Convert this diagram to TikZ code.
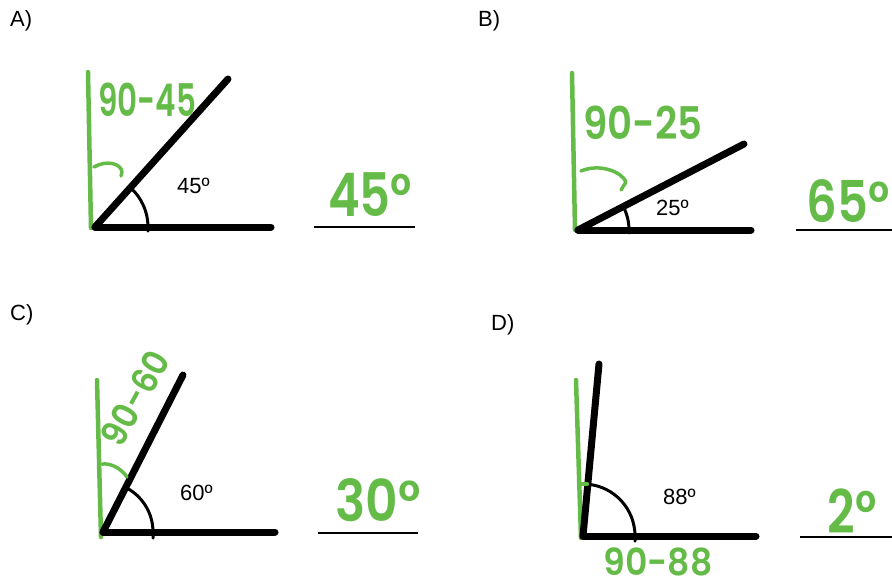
\documentclass[tikz,border=0pt]{standalone}
\usepackage{fontspec}
\setmainfont{Liberation Sans}
\newfontfamily\hand{Poppins}[BoldFont={Poppins SemiBold}]
\definecolor{pen}{RGB}{101,187,72}
\tikzset{
 ray/.style={line width=7pt, line cap=round, black},
 arcmark/.style={line width=3pt, line cap=round, black},
 gline/.style={line width=4.5pt, line cap=round, line join=round, pen},
 blank/.style={line width=1.5pt, black},
 lbl/.style={font=\fontsize{22}{26}\selectfont, inner sep=0pt, anchor=base west},
 gtxt/.style={text=pen, inner sep=0pt, font=\hand\bfseries\fontsize{31}{31}\selectfont},
 gbig/.style={text=pen, inner sep=0pt, font=\hand\bfseries\fontsize{48}{48}\selectfont},
}
\begin{document}
\begin{tikzpicture}[x=1pt,y=-1pt]
\fill[white] (0,0) rectangle (892,584);
\useasboundingbox (0,0) rectangle (892,584);

% ---------- Panel A ----------
\node[lbl] (labA) at (10,26) {A)};
\coordinate (VA) at (95,227);
\coordinate (HA) at (271,227);
\coordinate (DA) at (228,79);
\coordinate (GtA) at (88,72);
\coordinate (GbA) at (91,228);
\draw[gline] (GtA) -- (GbA);
\draw[ray] (VA) -- (HA);
\draw[ray] (VA) -- (DA);
\draw[arcmark] (148,231) -- (148,227) arc[start angle=0, end angle=-48, radius=53];
\draw[gline, line width=3.5pt] (94,167) .. controls (106,160) and (121,163) .. (122,172) -- (121,176);
\node[gtxt] (tA) at (147,100) {\scalebox{1}[1.45]{90-45}};
\node[lbl] (aA) at (177,193) {45º};
\node[gbig] (ansA) at (370,195) {\scalebox{1}[1.25]{45°}};
\coordinate (uA1) at (314,227);
\coordinate (uA2) at (415,227);
\draw[blank] (uA1) -- (uA2);

% ---------- Panel B ----------
\node[lbl] (labB) at (478,26) {B)};
\coordinate (VB) at (578,230);
\coordinate (HB) at (751,230);
\coordinate (DB) at (744,144);
\coordinate (GtB) at (572,73);
\coordinate (GbB) at (575,230);
\draw[gline] (GtB) -- (GbB);
\draw[ray] (VB) -- (HB);
\draw[ray] (VB) -- (DB);
\draw[arcmark] (629,233) -- (629,230) arc[start angle=0, end angle=-27.4, radius=51];
\draw[gline, line width=3.5pt] (581,171) .. controls (600,163) and (622,172) .. (626,182) -- (621,190);
\node[gtxt] (tB) at (643,123) {\scalebox{1.25}[1.45]{90-25}};
\node[lbl] (aB) at (656,215) {25º};
\node[gbig] (ansB) at (848,201) {\scalebox{1}[1.2]{65°}};
\coordinate (uB1) at (796,230);
\coordinate (uB2) at (892,230);
\draw[blank] (uB1) -- (uB2);

% ---------- Panel C ----------
\node[lbl] (labC) at (10,320) {C)};
\coordinate (VC) at (103,532);
\coordinate (HC) at (275,532);
\coordinate (DC) at (183,375);
\coordinate (GtC) at (97,380);
\coordinate (GbC) at (101,537);
\draw[gline] (GtC) -- (GbC);
\draw[ray] (VC) -- (HC);
\draw[ray] (VC) -- (DC);
\draw[arcmark] (153,538) -- (153,532) arc[start angle=0, end angle=-63, radius=50];
\draw[gline, line width=3.5pt] (102,464) .. controls (113,463) and (122,470) .. (127,477);
\node[gtxt, rotate=61] (tC) at (135,398) {\scalebox{1.05}[1.15]{90-60}};
\node[lbl] (aC) at (180,500) {60º};
\node[gbig] (ansC) at (378,500) {\scalebox{1.05}[1.2]{30°}};
\coordinate (uC1) at (318,533);
\coordinate (uC2) at (418,533);
\draw[blank] (uC1) -- (uC2);

% ---------- Panel D ----------
\node[lbl] (labD) at (491,330) {D)};
\coordinate (VD) at (583,536);
\coordinate (HD) at (756,536);
\coordinate (DD) at (599,364);
\coordinate (GtD) at (576,380);
\coordinate (GbD) at (581,538);
\draw[gline] (GtD) -- (GbD);
\draw[ray] (VD) -- (HD);
\draw[ray] (VD) -- (DD);
\draw[arcmark] (635,541) -- (635,536) arc[start angle=0, end angle=-84.7, radius=52];
\coordinate (tk1) at (580,484);
\coordinate (tk2) at (587,484);
\draw[gline] (tk1) -- (tk2);
\node[gtxt] (tD) at (658,562) {\scalebox{1.12}[1.2]{90-88}};
\node[lbl] (aD) at (663,504) {88º};
\node[gbig] (ansD) at (852,511) {\scalebox{1}[1.25]{2°}};
\coordinate (uD1) at (800,537);
\coordinate (uD2) at (892,537);
\draw[blank] (uD1) -- (uD2);
\end{tikzpicture}
\end{document}
